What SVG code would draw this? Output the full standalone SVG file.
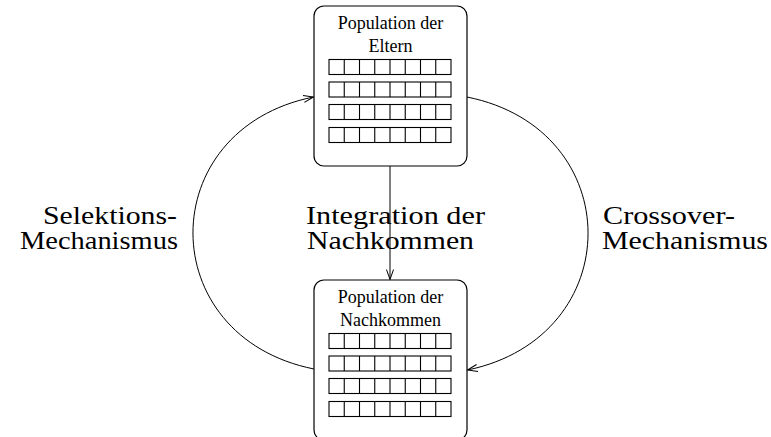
<svg xmlns="http://www.w3.org/2000/svg" width="771" height="437" viewBox="0 0 771 437">
  <style>
    .box { fill: #ffffff; stroke: #000000; stroke-width: 1.2; }
    .cell { fill: none; stroke: #000000; stroke-width: 1.1; }
    .conn { fill: none; stroke: #000000; stroke-width: 1; }
    .small { font-family: "Liberation Serif", "Times New Roman", serif; font-size: 18px; fill: #000000; text-anchor: middle; }
    .big { font-family: "Liberation Serif", "Times New Roman", serif; font-size: 26px; fill: #000000; }
  </style>
  <defs>
    <marker id="arr" markerUnits="userSpaceOnUse" markerWidth="12" markerHeight="10" refX="10" refY="4" orient="auto" overflow="visible">
      <path d="M0,0.5 L10,4 L0,7.5" fill="none" stroke="#000000" stroke-width="1"/>
    </marker>
    <g id="grid">
      <rect class="cell" x="329" y="0" width="122" height="15"/>
      <path class="cell" d="M344.25,0 V15 M359.5,0 V15 M374.75,0 V15 M390,0 V15 M405.25,0 V15 M420.5,0 V15 M435.75,0 V15"/>
    </g>
  </defs>

  <g id="connectors">
    <path class="conn" d="M390,166 L390,279.5" marker-end="url(#arr)"/>
    <path class="conn" d="M314,369 C152.7,336.7 152.7,129.3 313.5,97" marker-end="url(#arr)"/>
    <path class="conn" d="M467,97 C628.3,129.3 628.3,336.7 467.5,370" marker-end="url(#arr)"/>
  </g>

  <g id="eltern">
    <rect class="box" x="314" y="6" width="153" height="160" rx="10" ry="10"/>
    <text class="small" x="390.5" y="29">Population der</text>
    <text class="small" x="390.5" y="52">Eltern</text>
    <use href="#grid" y="59.5"/>
    <use href="#grid" y="82"/>
    <use href="#grid" y="104.5"/>
    <use href="#grid" y="127.5"/>
  </g>

  <g id="nachkommen">
    <rect class="box" x="314" y="280" width="153" height="160" rx="10" ry="10"/>
    <text class="small" x="390.5" y="303">Population der</text>
    <text class="small" x="390.5" y="326">Nachkommen</text>
    <use href="#grid" y="333.5"/>
    <use href="#grid" y="356"/>
    <use href="#grid" y="378.5"/>
    <use href="#grid" y="401.5"/>
  </g>

  <g id="label-selektion">
    <text class="big" x="43" y="224" textLength="134" lengthAdjust="spacingAndGlyphs">Selektions-</text>
    <text class="big" x="20" y="249" textLength="158" lengthAdjust="spacingAndGlyphs">Mechanismus</text>
  </g>
  <g id="label-integration">
    <text class="big" x="306" y="224" textLength="179" lengthAdjust="spacingAndGlyphs">Integration der</text>
    <text class="big" x="307" y="249" textLength="167" lengthAdjust="spacingAndGlyphs">Nachkommen</text>
  </g>
  <g id="label-crossover">
    <text class="big" x="603" y="224" textLength="132" lengthAdjust="spacingAndGlyphs">Crossover-</text>
    <text class="big" x="602" y="249" textLength="166" lengthAdjust="spacingAndGlyphs">Mechanismus</text>
  </g>
</svg>
